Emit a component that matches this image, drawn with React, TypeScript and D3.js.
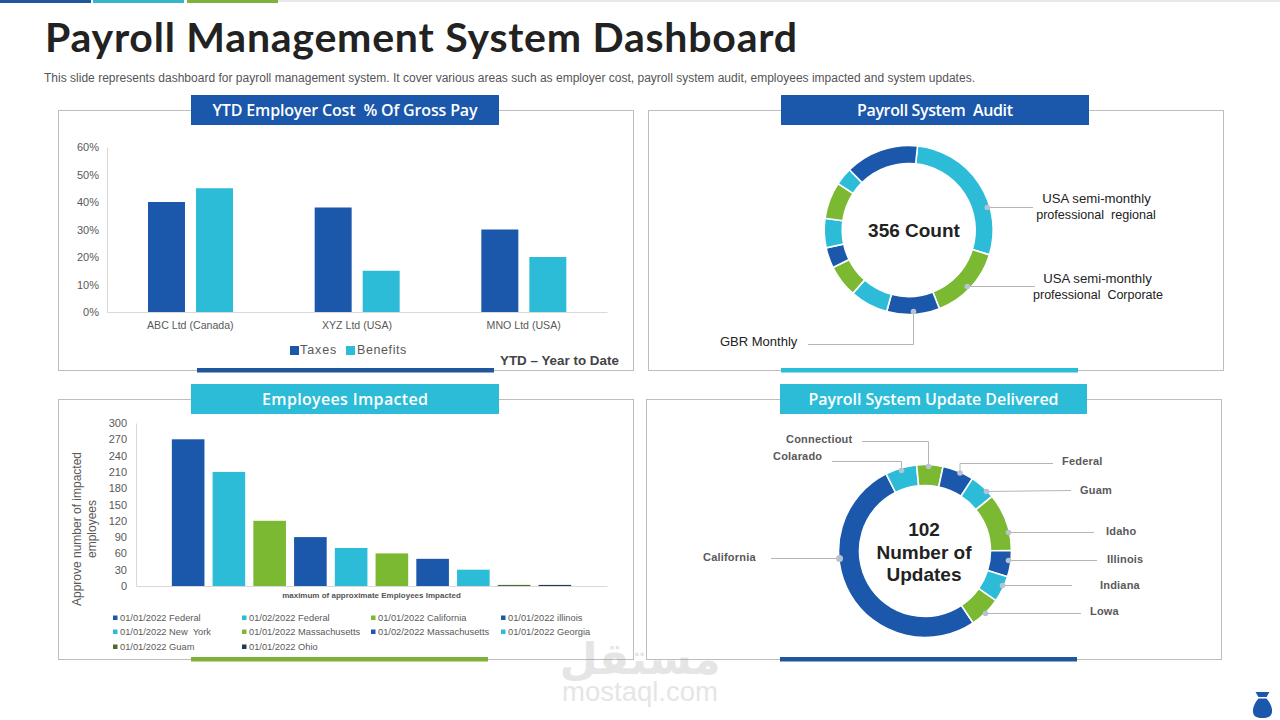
import React, { useEffect, useRef } from 'react'
import * as d3 from 'd3'

const BLUE = '#1b57ab'
const CYAN = '#2cbcd8'
const GREEN = '#7ab931'
const SANS = '"Liberation Sans", Arial, sans-serif'

// YTD employer cost
const companies = ['ABC Ltd (Canada)', 'XYZ Ltd (USA)', 'MNO Ltd (USA)']
const taxes = [40, 38, 30]
const benefits = [45, 15, 20]
const costTicks = [0, 10, 20, 30, 40, 50, 60]

// payroll audit donut, clockwise
const auditCounts = [100, 51, 36, 26, 22, 14, 20, 25, 12, 50]
const auditColors = [CYAN, GREEN, BLUE, CYAN, GREEN, BLUE, CYAN, GREEN, CYAN, BLUE]

// employees impacted
const impactNames = [
  '01/01/2022 Federal', '01/02/2022 Federal', '01/01/2022 California', '01/01/2022 illinois',
  '01/01/2022 New  York', '01/01/2022 Massachusetts', '01/02/2022 Massachusetts', '01/01/2022 Georgia',
  '01/01/2022 Guam', '01/01/2022 Ohio',
]
const impactValues = [270, 210, 120, 90, 70, 60, 50, 30, 2, 2]
const impactColors = [BLUE, CYAN, GREEN, BLUE, CYAN, GREEN, BLUE, CYAN, '#4d6b2c', '#1c3a5e']
const impactTicks = [0, 30, 60, 90, 120, 150, 180, 210, 240, 270, 300]

// updates delivered donut, clockwise from California
const updateStates = ['California', 'Colarado', 'Connectiout', 'Federal', 'Guam', 'Idaho', 'Illinois', 'Indiana', 'Lowa']
const updateCounts = [53, 6, 5, 6, 5, 11, 5, 5, 6]
const updateColors = [BLUE, CYAN, GREEN, BLUE, CYAN, GREEN, BLUE, CYAN, GREEN]

const rad = (deg: number) => (deg * Math.PI) / 180

function App() {
  const svgRef = useRef<SVGSVGElement>(null)

  useEffect(() => {
    const svg = d3.select(svgRef.current)
    svg.selectAll('*').remove()

    const label = (x: number, y: number, s: string, size: number, fill: string, anchor = 'start', weight = 'normal') =>
      svg.append('text').attr('x', x).attr('y', y).attr('font-family', SANS).attr('font-size', size)
        .attr('fill', fill).attr('text-anchor', anchor).attr('font-weight', weight).attr('xml:space', 'preserve').text(s)

    const rect = (x: number, y: number, w: number, h: number, fill: string) =>
      svg.append('rect').attr('x', x).attr('y', y).attr('width', w).attr('height', h).attr('fill', fill)

    // top strip
    svg.append('line').attr('x1', 278).attr('x2', 1280).attr('y1', 1).attr('y2', 1).attr('stroke', '#d0d0d0')
    rect(0, 0, 91, 3, '#1f569c')
    rect(93, 0, 91, 3, '#35b5cc')
    rect(187, 0, 91, 3, '#7fb23c')

    // title
    svg.append('text').attr('x', 45).attr('y', 52).attr('font-family', 'Lato, sans-serif').attr('font-weight', 700)
      .attr('font-size', 41).attr('fill', '#222').attr('textLength', 752).attr('lengthAdjust', 'spacing')
      .text('Payroll Management System Dashboard')
    label(44, 82, 'This slide represents dashboard for payroll management system. It cover various areas such as employer cost, payroll system audit, employees impacted and system updates.', 12, '#555')
      .attr('textLength', 931)

    // panels
    const panels = [
      { x: 58, y: 110, w: 575, hx: 191, hw: 308, hfill: BLUE, title: 'YTD Employer Cost  % Of Gross Pay', tw: 265, bx: 197, bfill: '#1f569c' },
      { x: 648, y: 110, w: 575, hx: 781, hw: 308, hfill: BLUE, title: 'Payroll System  Audit', tw: 156, bx: 781, bfill: CYAN },
      { x: 58, y: 399, w: 575, hx: 191, hw: 308, hfill: CYAN, title: 'Employees Impacted', tw: 166, bx: 191, bfill: '#7fb23c' },
      { x: 646, y: 399, w: 575, hx: 780, hw: 307, hfill: CYAN, title: 'Payroll System Update Delivered', tw: 250, bx: 780, bfill: '#1f569c' },
    ]
    panels.forEach(p => {
      svg.append('rect').attr('x', p.x + 0.5).attr('y', p.y + 0.5).attr('width', p.w).attr('height', 260)
        .attr('fill', 'none').attr('stroke', '#bdbdbd')
      rect(p.hx, p.y - 15, p.hw, 30, p.hfill)
      svg.append('text').attr('x', p.hx + p.hw / 2).attr('y', p.y + 5.5).attr('text-anchor', 'middle')
        .attr('font-family', '"Open Sans", sans-serif').attr('font-weight', 600).attr('font-size', 16)
        .attr('textLength', p.tw).attr('fill', '#fff').attr('xml:space', 'preserve').text(p.title)
      rect(p.bx, p.y + 258, 297, 4.5, p.bfill)
    })

    const styleAxis = (g: any, size: number) => {
      g.selectAll('path').attr('stroke', '#d9d9d9')
      g.selectAll('text').attr('font-family', SANS).attr('font-size', size).attr('fill', '#595959')
    }

    // cost bars
    const costY = d3.scaleLinear().domain([0, 60]).range([312, 147])
    const costX = d3.scaleBand().domain(companies).range([107, 607])
    const costInner = d3.scaleBand().domain(['Taxes', 'Benefits']).range([41, 126]).paddingInner(0.23)
    const costAxisY = svg.append('g').attr('transform', 'translate(107,0)')
      .call(d3.axisLeft(costY).tickValues(costTicks).tickFormat(d => `${d}%`).tickSize(0).tickPadding(8))
    styleAxis(costAxisY, 11)
    const costAxisX = svg.append('g').attr('transform', 'translate(0,312)')
      .call(d3.axisBottom(costX).tickSize(0).tickPadding(9))
    styleAxis(costAxisX, 10.6)
    const costSeries = [{ name: 'Taxes', values: taxes, color: BLUE }, { name: 'Benefits', values: benefits, color: CYAN }]
    costSeries.forEach(s => {
      svg.append('g').selectAll('rect').data(s.values).join('rect')
        .attr('x', (_, i) => costX(companies[i])! + costInner(s.name)!)
        .attr('y', d => costY(d))
        .attr('width', costInner.bandwidth())
        .attr('height', d => costY(0) - costY(d))
        .attr('fill', s.color)
    })
    rect(290, 346, 9, 9, BLUE)
    label(300, 354, 'Taxes', 12.5, '#595959').attr('letter-spacing', 0.9)
    rect(346, 346, 9, 9, CYAN)
    label(357, 354, 'Benefits', 12.5, '#595959').attr('letter-spacing', 0.6)
    label(500, 365, 'YTD – Year to Date', 13.4, '#444', 'start', 'bold')

    // audit donut
    const auditArc = d3.arc<d3.PieArcDatum<number>>().innerRadius(66.5).outerRadius(84.5)
    const auditPie = d3.pie<number>().sort(null).startAngle(rad(6)).endAngle(rad(366))
    svg.append('g').attr('transform', 'translate(908.7,230)')
      .selectAll('path').data(auditPie(auditCounts)).join('path')
      .attr('d', auditArc).attr('fill', (_, i) => auditColors[i]).attr('stroke', '#fff').attr('stroke-width', 1.6)
    label(914, 237, '356 Count', 19, '#222', 'middle', 'bold')

    const leader = (pts: number[][], r = 2.8) => {
      svg.append('path').attr('d', d3.line()(pts as [number, number][])).attr('fill', 'none').attr('stroke', '#b5b5b5')
      svg.append('circle').attr('cx', pts[0][0]).attr('cy', pts[0][1]).attr('r', r).attr('fill', '#b9c3d0')
    }
    leader([[987.3, 207.5], [1033, 207.5]])
    leader([[967.3, 286.5], [1035, 286.5]])
    leader([[913.5, 311.5], [913.5, 344.5], [808, 344.5]])
    label(1096.5, 203, 'USA semi-monthly', 13.2, '#222', 'middle')
    label(1096, 219, 'professional  regional', 12.6, '#222', 'middle')
    label(1097.5, 283, 'USA semi-monthly', 13.2, '#222', 'middle')
    label(1098, 299, 'professional  Corporate', 12.5, '#222', 'middle')
    label(720, 346, 'GBR Monthly', 13, '#222')

    // impacted bars
    const impactY = d3.scaleLinear().domain([0, 300]).range([586, 423])
    const impactX = d3.scaleBand().domain(impactNames).range([136, 607]).paddingInner(0.2).paddingOuter(0.88)
    const impactAxisY = svg.append('g').attr('transform', 'translate(136,0)')
      .call(d3.axisLeft(impactY).tickValues(impactTicks).tickSize(0).tickPadding(9))
    styleAxis(impactAxisY, 11)
    const impactAxisX = svg.append('g').attr('transform', 'translate(0,586)')
      .call(d3.axisBottom(impactX).tickSize(0).tickFormat(() => ''))
    styleAxis(impactAxisX, 10)
    svg.append('g').selectAll('rect').data(impactValues).join('rect')
      .attr('x', (_, i) => impactX(impactNames[i])!)
      .attr('y', d => impactY(d))
      .attr('width', impactX.bandwidth())
      .attr('height', d => impactY(0) - impactY(d))
      .attr('fill', (_, i) => impactColors[i])
    label(371.5, 598, 'maximum of approximate Employees Impacted', 8, '#555', 'middle', 'bold')
    svg.append('g').attr('transform', 'translate(81,529) rotate(-90)').call(g => {
      g.append('text').attr('text-anchor', 'middle').attr('font-family', SANS).attr('font-size', 12).attr('fill', '#595959')
        .text('Approve number of impacted')
      g.append('text').attr('y', 15).attr('text-anchor', 'middle').attr('font-family', SANS).attr('font-size', 12).attr('fill', '#595959')
        .text('employees')
    })
    const legendX = [113, 242, 371, 501]
    const legendY = [618, 632, 647]
    impactNames.forEach((name, i) => {
      const x = legendX[i % 4]
      const y = legendY[Math.floor(i / 4)]
      rect(x, y - 2.5, 4.5, 4.5, impactColors[i])
      label(x + 7, y + 3, name, 9.3, '#595959')
    })

    // updates donut
    const updateArc = d3.arc<d3.PieArcDatum<number>>().innerRadius(65.5).outerRadius(86.5)
    const updatePie = d3.pie<number>().sort(null).startAngle(rad(146.2)).endAngle(rad(506.2))
    svg.append('g').attr('transform', 'translate(925,551)')
      .selectAll('path').data(updatePie(updateCounts)).join('path')
      .attr('d', updateArc).attr('fill', (_, i) => updateColors[i]).attr('stroke', '#fff').attr('stroke-width', 1.6)
    label(924, 536, '102', 19, '#222', 'middle', 'bold')
    label(924, 559, 'Number of', 19, '#222', 'middle', 'bold')
    label(924, 581, 'Updates', 19, '#222', 'middle', 'bold')

    leader([[839.5, 558.5], [771, 558.5]], 3.5)
    leader([[901.5, 470.5], [901.5, 461.5], [832, 461.5]])
    leader([[928.5, 466.5], [928.5, 441.5], [862, 441.5]])
    leader([[960, 473], [960, 463.5], [1053, 463.5]])
    leader([[986.5, 491.5], [1071, 490.5]])
    leader([[1008.5, 532.5], [1094, 532.5]])
    leader([[1008.5, 560.5], [1097, 560.5]])
    leader([[1002.5, 585.5], [1072, 585.5]])
    leader([[985.5, 613.5], [1081, 613.5]])
    const stateAt: [number, number][] = [
      [703, 561], [773, 460], [786, 443], [1062, 465], [1080, 494],
      [1106, 535], [1107, 563], [1100, 589], [1090, 615],
    ]
    updateStates.forEach((s, i) => {
      label(stateAt[i][0], stateAt[i][1], s, 11, '#595959', 'start', 'bold').attr('letter-spacing', 0.2)
    })

    // watermark
    svg.append('text').attr('x', 640).attr('y', 674).attr('text-anchor', 'middle').attr('font-family', '"DejaVu Sans", sans-serif')
      .attr('font-weight', 'bold').attr('font-size', 44).attr('fill', '#9a9a9a').attr('opacity', 0.25).text('مستقل')
    svg.append('text').attr('x', 640).attr('y', 701).attr('text-anchor', 'middle').attr('font-family', SANS)
      .attr('font-size', 27.5).attr('fill', '#9a9a9a').attr('opacity', 0.25).text('mostaql.com')

    // money bag
    svg.append('path').attr('fill', BLUE)
      .attr('d', 'M1255.5 692 L1269.5 692 L1266.5 697 L1258.5 697 Z M1258.5 698.5 L1266.5 698.5 C1270.5 703 1272.5 708 1272 712 C1271.5 716.5 1268 718 1262.5 718 C1257 718 1253.5 716.5 1253 712 C1252.5 708 1254.5 703 1258.5 698.5 Z')
  }, [])

  return (
    <svg ref={svgRef} width={1280} height={720} viewBox="0 0 1280 720"
      style={{ position: 'absolute', left: 0, top: 0, background: '#fff' }} />
  )
}

export default App
